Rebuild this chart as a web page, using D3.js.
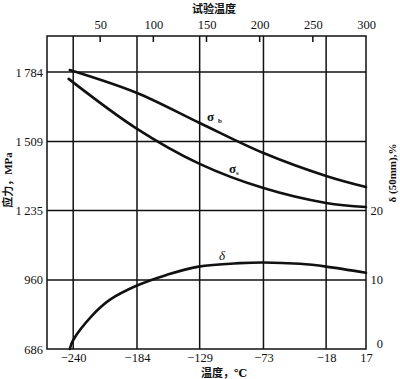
<!DOCTYPE html>
<html><head><meta charset="utf-8">
<script src="https://cdn.jsdelivr.net/npm/d3@7"></script>
<style>
body{margin:0;background:#fff;}
svg text{font-family:"Liberation Serif","DejaVu Serif",serif;fill:#111;}
svg text.cjk, svg tspan.cjk{font-family:"Noto Sans CJK SC",sans-serif;font-weight:bold;}
</style></head>
<body><svg id="c" width="400" height="379"></svg>
<script>
// Data
const bottomTicksC = [-240, -184, -129, -73, -18, 17];
const topTicksK = [50, 100, 150, 200, 250, 300];
const leftTicksMPa = [1784, 1509, 1235, 960, 686];
const rightTicksPct = [20, 10, 0];
const sigmaB_C = [-243, -184, -129, -73, -18, 17];
const sigmaB_MPa = [1792, 1701, 1582, 1463, 1372, 1328];
const sigmaS_C = [-244, -185, -129, -73, -18, 17];
const sigmaS_MPa = [1757, 1562, 1420, 1324, 1265, 1249];
const delta_C = [-243, -240, -223, -208, -185, -158, -130, -94, -73, -41, -18, 17];
const delta_pct = [0, 1.3, 4.9, 7.1, 9.1, 10.7, 11.9, 12.4, 12.5, 12.3, 11.9, 11.0];

const L = 47, R = 366, T = 36, B = 349;
const svg = d3.select("#c");
const x = d3.scaleLinear().domain([-263, 17]).range([L, R]);
const xK = d3.scaleLinear().domain([0, 300]).range([L, R]);
const y = d3.scaleLinear().domain([686, 1927]).range([B, T]);
const yR = d3.scaleLinear().domain([0, 45.2]).range([B, T]);

// grid
const g = svg.append("g").attr("stroke", "#111").attr("stroke-width", 1.5);
bottomTicksC.filter(d => d < 17).forEach(d => {
  g.append("line").attr("x1", x(d)).attr("x2", x(d)).attr("y1", T).attr("y2", B);
});
leftTicksMPa.filter(d => d > 686).forEach(d => {
  g.append("line").attr("x1", L).attr("x2", R).attr("y1", y(d)).attr("y2", y(d));
});
// top tick marks
topTicksK.filter(d => d < 300).forEach(d => {
  g.append("line").attr("x1", xK(d)).attr("x2", xK(d)).attr("y1", T).attr("y2", T + 6);
});
svg.append("rect").attr("x", L).attr("y", T).attr("width", R - L).attr("height", B - T)
  .attr("fill", "none").attr("stroke", "#111").attr("stroke-width", 1.5);

// axes labels
const axB = d3.axisBottom(x).tickValues(bottomTicksC).tickSize(0).tickPadding(0)
  .tickFormat(d => d < 0 ? "\u2212" + Math.abs(d) : d);
const gb = svg.append("g").attr("transform", `translate(0,${B + 4})`).call(axB);
const axT = d3.axisTop(xK).tickValues(topTicksK).tickSize(0).tickPadding(0);
const gt = svg.append("g").attr("transform", `translate(0,${T - 7})`).call(axT);
const axL = d3.axisLeft(y).tickValues(leftTicksMPa).tickSize(0).tickPadding(0)
  .tickFormat(d => d >= 1000 ? String(d).replace(/^(\d)/, "$1\u2009") : d);
const gl = svg.append("g").attr("transform", `translate(${L - 4},0)`).call(axL);
const axR = d3.axisRight(yR).tickValues(rightTicksPct).tickSize(0).tickPadding(0);
const gr = svg.append("g").attr("transform", `translate(370,0)`).call(axR);
[gb, gt, gl, gr].forEach(a => {
  a.attr("font-family", null);
  a.select(".domain").remove();
  a.selectAll("text").attr("font-size", 12.5).style("font-family", "'Liberation Serif', 'DejaVu Serif', serif").attr("fill", "#111");
});
gr.selectAll("text").attr("text-anchor", "end").attr("x", 13);
gr.selectAll(".tick").filter(d => d === 0).select("text").attr("dy", "-0.1em");

// curves
const line = d3.line().curve(d3.curveCatmullRom.alpha(0.5));
function draw(xs, ys, sx, sy) {
  svg.append("path").attr("d", line(xs.map((c, i) => [sx(c), sy(ys[i])])))
    .attr("fill", "none").attr("stroke", "#111").attr("stroke-width", 2.6)
    .attr("stroke-linecap", "round");
}
draw(sigmaB_C, sigmaB_MPa, x, y);
draw(sigmaS_C, sigmaS_MPa, x, y);
draw(delta_C, delta_pct, x, yR);

// curve labels
const sb = svg.append("text").attr("x", 207).attr("y", 121).attr("font-size", 13).attr("font-weight", "bold");
sb.append("tspan").text("σ");
sb.append("tspan").attr("font-size", 7).attr("dx", 4).attr("dy", 2).text("b");
const ss = svg.append("text").attr("x", 229).attr("y", 173).attr("font-size", 13).attr("font-weight", "bold");
ss.append("tspan").text("σ");
ss.append("tspan").attr("font-size", 7).attr("dx", 0).attr("dy", 2).text("s");
svg.append("text").attr("x", 219).attr("y", 260).attr("font-size", 13).attr("font-style", "italic").text("δ");

// titles
svg.append("text").attr("class", "cjk").attr("x", 214).attr("y", 13).attr("text-anchor", "middle")
  .attr("font-size", 11).text("试验温度");
const bt = svg.append("text").attr("x", 224).attr("y", 377).attr("text-anchor", "middle").attr("font-size", 11);
bt.append("tspan").attr("class", "cjk").text("温度，");
bt.append("tspan").attr("font-weight", "bold").text("℃");
const lt = svg.append("text").attr("transform", "translate(12,180) rotate(-90)").attr("text-anchor", "middle").attr("font-size", 11);
lt.append("tspan").attr("class", "cjk").text("应力，");
lt.append("tspan").attr("font-weight", "bold").text("MPa");
svg.append("text").attr("transform", "translate(396,173) rotate(-90)").attr("text-anchor", "middle")
  .attr("font-size", 11).attr("font-weight", "bold").text("δ (50mm),%");
</script></body></html>
